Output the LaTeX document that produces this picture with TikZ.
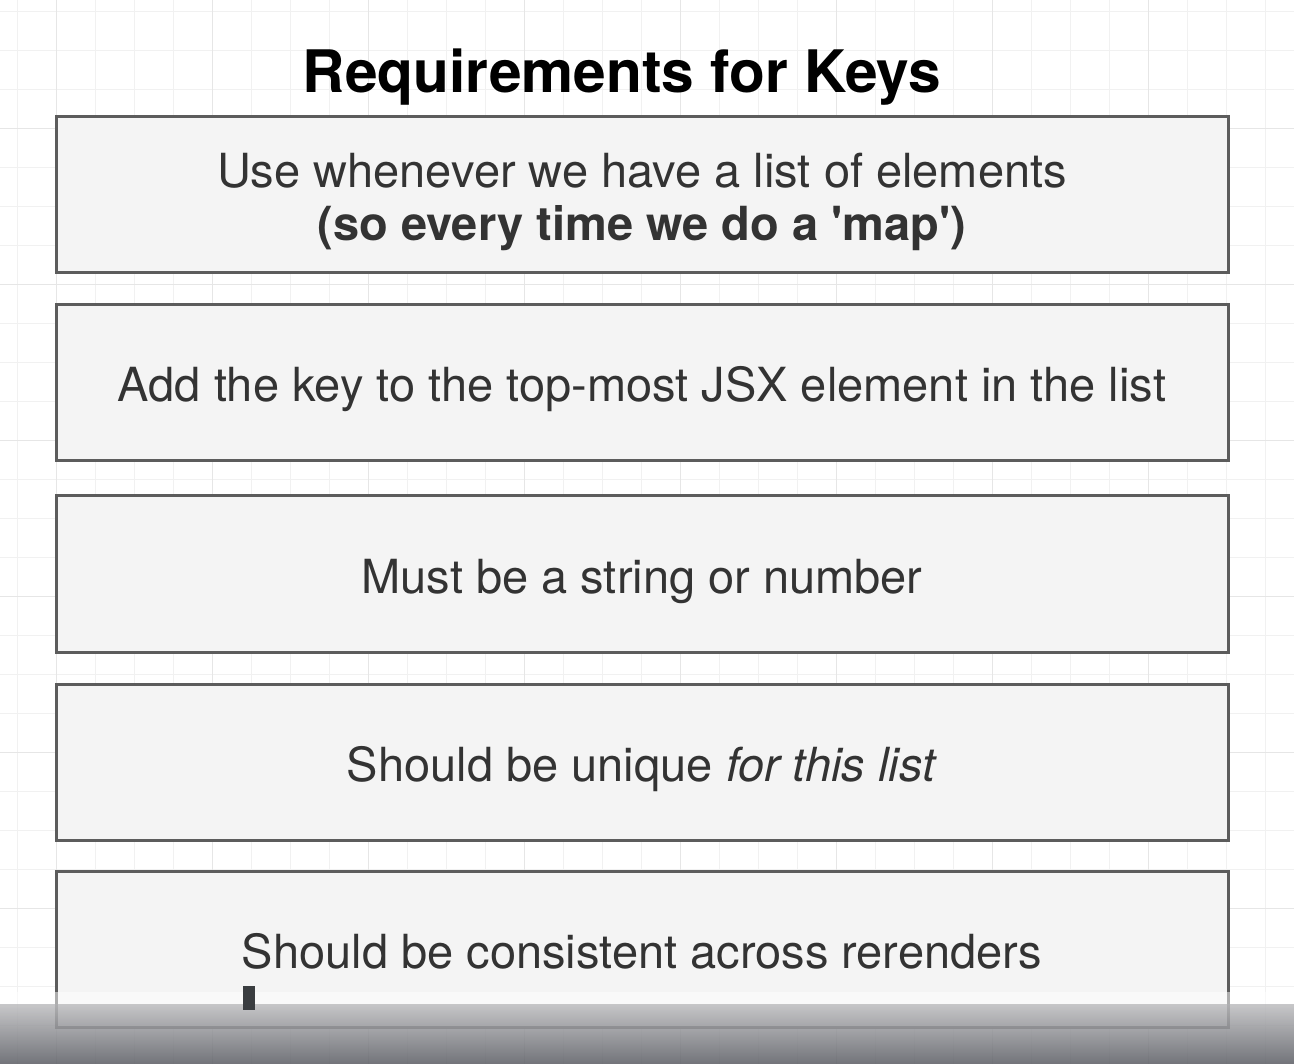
\documentclass[tikz,border=0pt]{standalone}
\usepackage{fontspec}
\setmainfont{TeX Gyre Heros}
\definecolor{gridminor}{HTML}{F1F1F1}
\definecolor{gridmajor}{HTML}{E6E6E6}
\definecolor{boxline}{HTML}{5C5C5C}
\definecolor{boxfill}{HTML}{F4F4F4}
\definecolor{keytext}{HTML}{333333}
\definecolor{bartop}{RGB}{190,190,192}
\definecolor{barbottom}{RGB}{90,92,99}
\definecolor{cursor}{HTML}{3A3D40}
\begin{document}
\begin{tikzpicture}[x=1pt,y=-1pt,
    keytxt/.style={text=keytext,align=center,font=\fontsize{47}{53}\selectfont},
    keybox/.style={keytxt,draw=boxline,line width=3pt,fill=boxfill,
      minimum width=1172pt,minimum height=156pt,inner sep=0pt},
    onebox/.style={keybox,text height=38pt,text depth=0pt},
    heading/.style={font=\fontsize{58.6}{62}\selectfont\bfseries,anchor=base}]
    \useasboundingbox (0,0) rectangle (1294,1064);
    \fill [white] (0,0) rectangle (1294,1064);
    % background grid
    \foreach \i in {0,...,32}
      \draw [gridminor,line width=1pt] (17.5+39*\i,0) -- (17.5+39*\i,1064);
    \foreach \j in {0,...,26}
      \draw [gridminor,line width=1pt] (0,11.7+39*\j) -- (1294,11.7+39*\j);
    \foreach \i in {1,5,...,32}
      \draw [gridmajor,line width=1pt] (17.5+39*\i,0) -- (17.5+39*\i,1064);
    \foreach \j in {3,7,...,26}
      \draw [gridmajor,line width=1pt] (0,11.7+39*\j) -- (1294,11.7+39*\j);
    % title and boxes
    \node [heading] (title) at (622,93) {Requirements for Keys};
    \node [keybox] (uselist) at (642,195) {};
    \node [keytxt,yshift=-6.5pt] (uselisttext) at (uselist.center) {Use whenever we have a list of elements\\ \textbf{(so every time we do a \textquotesingle map\textquotesingle)}};
    \node [onebox] (topmost) at (642,383) {Add the key to the top-most JSX element in the list};
    \node [onebox] (stringnum) at (642,574) {Must be a string or number};
    \node [onebox] (unique) at (642,762) {Should be unique \textit{for this list}};
    \node [onebox] (consistent) at (642,949) {Should be consistent across rerenders};
    % player overlay
    \fill [white,opacity=0.5] (0,992) rectangle (1294,1004);
    \shade [top color=bartop,bottom color=barbottom,opacity=0.85] (0,1004) rectangle (1294,1064);
    \fill [cursor] (243,986) rectangle (255,1010);
\end{tikzpicture}
\end{document}
